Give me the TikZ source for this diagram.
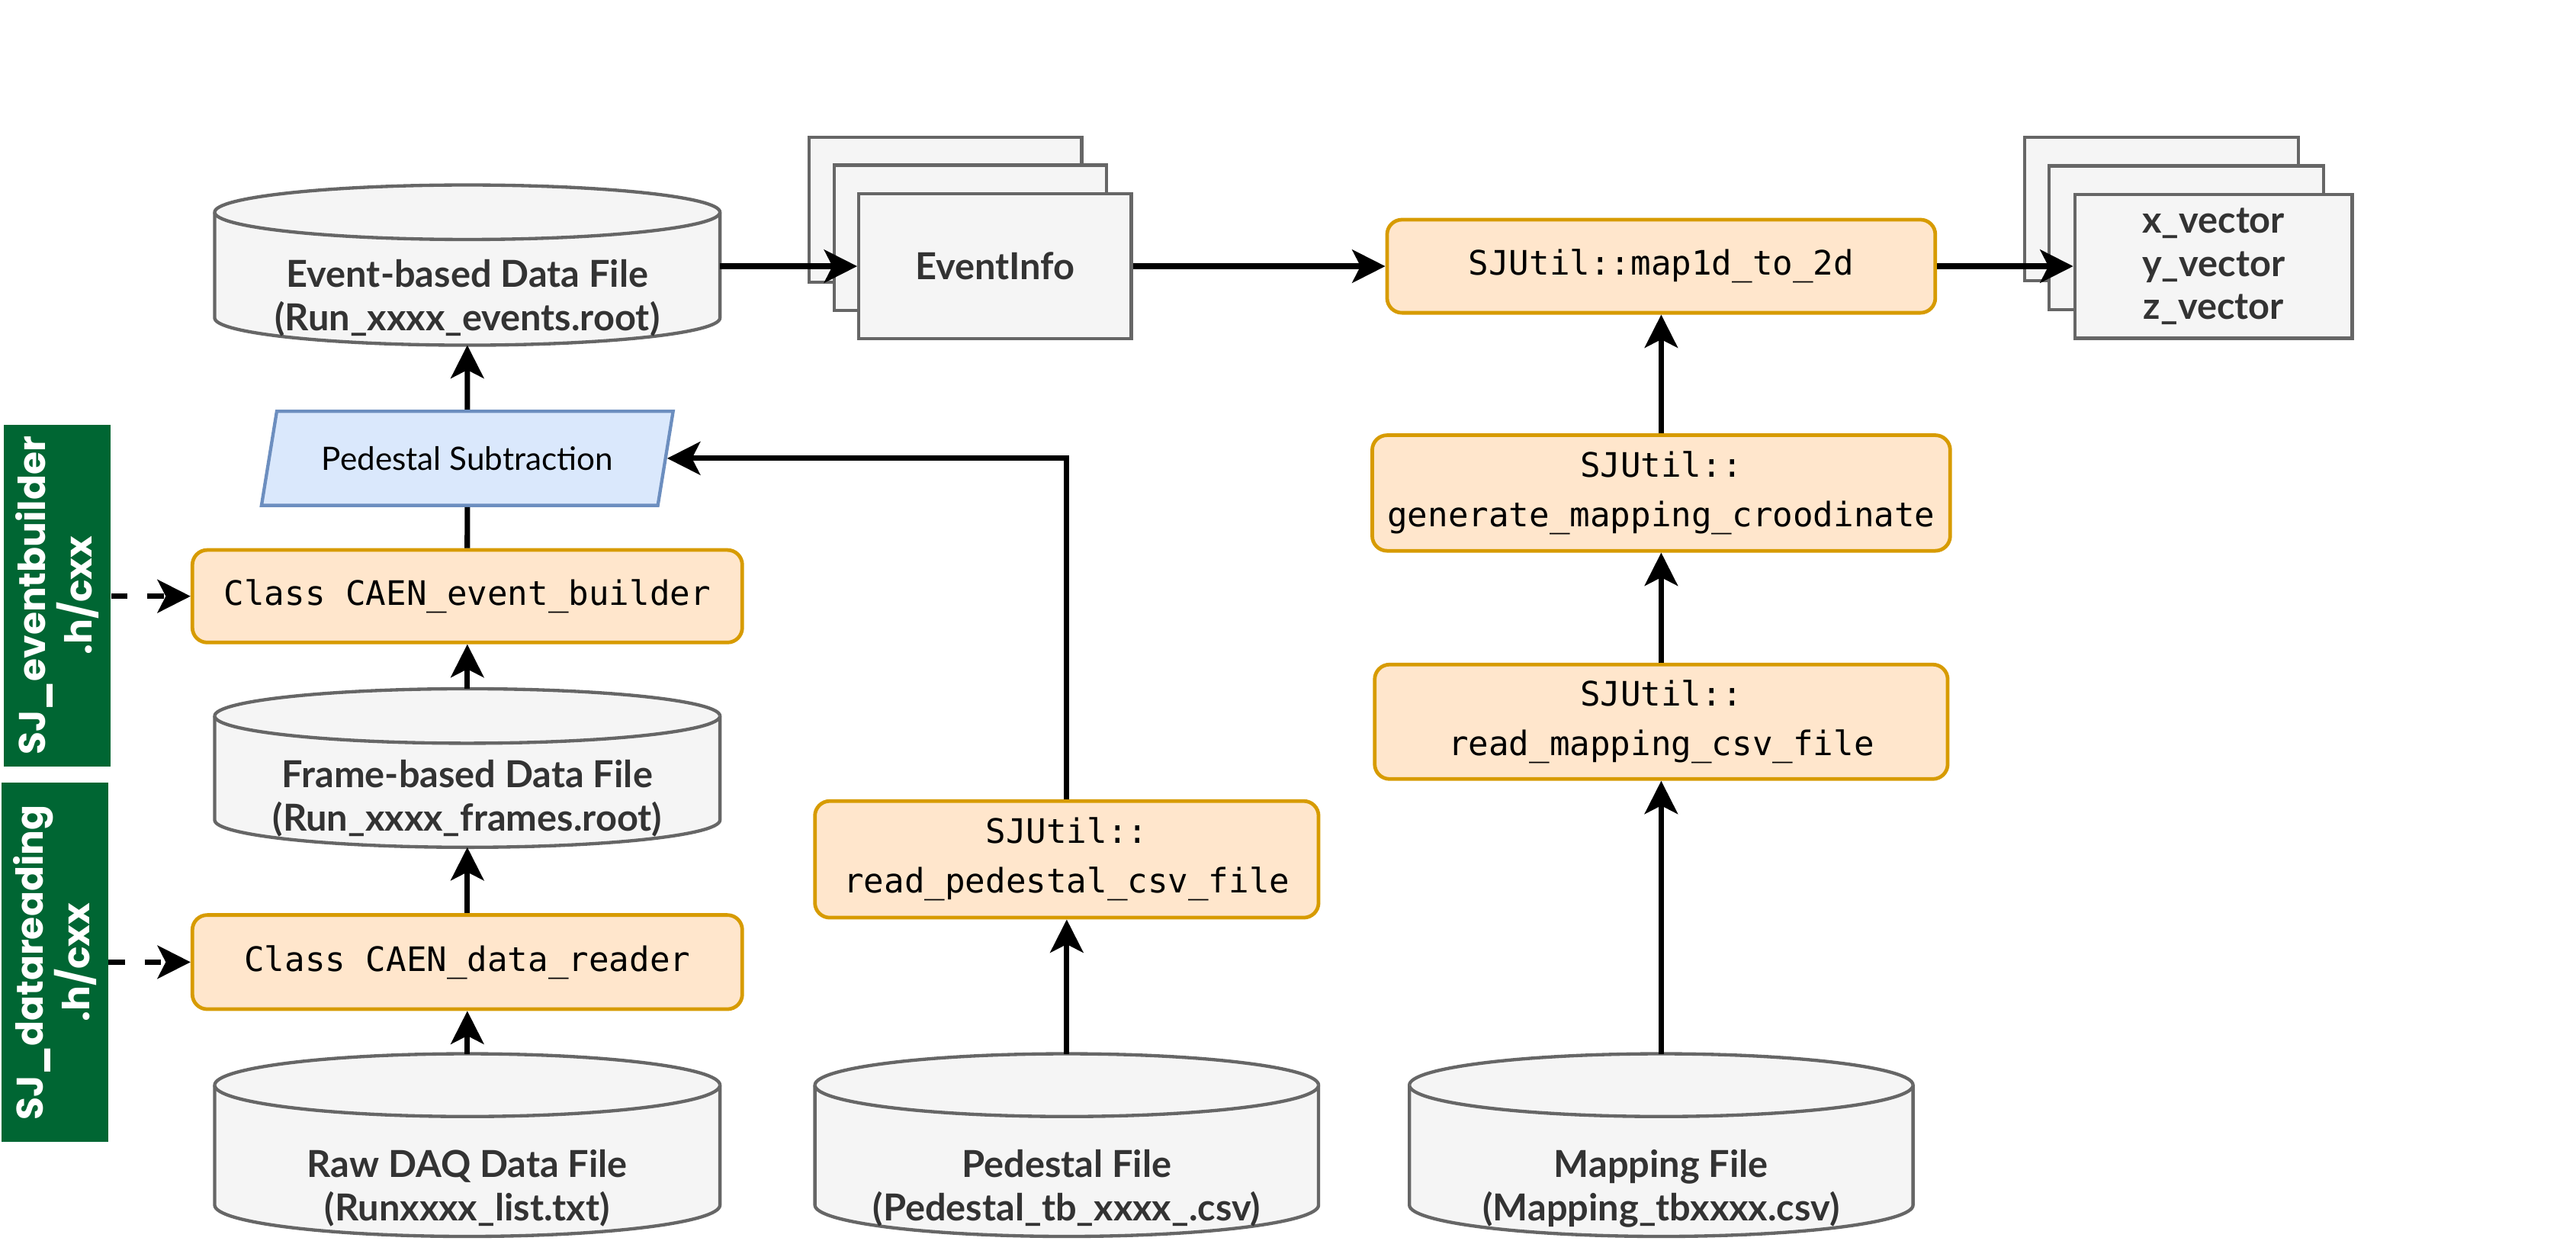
\documentclass[tikz,border=0pt]{standalone}
\usepackage{fontspec}
\setmainfont{Lato}
\newfontfamily\monof{DejaVu Sans Mono}
\newfontfamily\geof{Poppins}
\usetikzlibrary{arrows.meta,shapes.geometric}
\definecolor{ofill}{HTML}{FFE6CC}
\definecolor{oline}{HTML}{D79B00}
\definecolor{gfill}{HTML}{F5F5F5}
\definecolor{gline}{HTML}{666666}
\definecolor{gtext}{HTML}{333333}
\definecolor{bfill}{HTML}{DAE8FC}
\definecolor{bline}{HTML}{6C8EBF}
\definecolor{sjgreen}{HTML}{006633}
\newcommand{\drum}[6]{%
 \pgfmathsetmacro\dl{#2-#4/2}%
 \pgfmathsetmacro\dr{#2+#4/2}%
 \pgfmathsetmacro\dt{#3+#6}%
 \pgfmathsetmacro\db{#3+#5-#6}%
 \pgfmathsetmacro\drx{#4/2}%
 \filldraw[drumline] (\dl,\dt) -- (\dl,\db) arc[start angle=180,end angle=0,x radius=\drx,y radius=#6] -- (\dr,\dt) arc[start angle=0,end angle=-180,x radius=\drx,y radius=#6] -- cycle;
 \draw[drumline] (\dl,\dt) arc[start angle=180,end angle=0,x radius=\drx,y radius=#6];
 \node[inner sep=0pt, outer sep=0pt, minimum width=#4pt, minimum height=#5pt] (#1) at (#2,#3+#5/2) {};
}
\tikzset{
 drumline/.style={draw=gline, fill=gfill, line width=2pt},
 drumtext/.style={font={\bfseries\fontsize{22.5pt}{26.5pt}\selectfont}, text=gtext, align=center, inner sep=0pt},
 func/.style={draw=oline, fill=ofill, line width=2.2pt, rounded corners=9pt, inner sep=0pt, align=center, font={\monof\fontsize{20.4pt}{30pt}\selectfont}},
 filebox/.style={draw=gline, fill=gfill, line width=2pt, inner sep=0pt, align=center, text=gtext, font={\bfseries\fontsize{22.5pt}{26pt}\selectfont}},
 sjbox/.style={fill=sjgreen, inner sep=0pt},
 sjtext/.style={text=white, align=center, font={\geof\bfseries\fontsize{22.5pt}{28pt}\selectfont}, rotate=90, inner sep=0pt},
 arr/.style={line width=3.3pt, -{Stealth[length=20pt,width=20pt,inset=5pt]}},
 plainline/.style={line width=3.3pt},
 dasharr/.style={arr, dash pattern=on 10pt off 12pt},
}
\begin{document}
\begin{tikzpicture}[x=1pt,y=-1pt]
\fill[white] (0,0) rectangle (1560,751);
\useasboundingbox (0,0) rectangle (1560,751);

% cylinders
\drum{ev}{283}{112}{306}{97}{16.5}
\node[drumtext] (evt) at (283,180.5) {Event-based Data File\\(Run\_xxxx\_events.root)};
\drum{fr}{283}{417}{306}{96}{16.5}
\node[drumtext] (frt) at (283,483.5) {Frame-based Data File\\(Run\_xxxx\_frames.root)};
\drum{raw}{283}{638}{306}{110.6}{19}
\node[drumtext] (rawt) at (283,719.5) {Raw DAQ Data File\\(Runxxxx\_list.txt)};
\drum{pf}{646}{638}{305}{110.6}{19}
\node[drumtext] (pft) at (646,719.5) {Pedestal File\\(Pedestal\_tb\_xxxx\_.csv)};
\drum{mf}{1006}{638}{305}{110.6}{19}
\node[drumtext] (mft) at (1006,719.5) {Mapping File\\(Mapping\_tbxxxx.csv)};

% pedestal subtraction
\node[trapezium, trapezium left angle=64, trapezium right angle=116, trapezium stretches=true,
      minimum width=250pt, minimum height=57pt, draw=bline, fill=bfill, line width=2pt, inner sep=0pt,
      font={\fontsize{19.5pt}{22pt}\selectfont}] (ps) at (283,277.5) {Pedestal Subtraction};

% function boxes
\node[func, minimum width=333pt, minimum height=56pt] (eb) at (283,361) {Class CAEN\_event\_builder};
\node[func, minimum width=333pt, minimum height=57pt] (dr) at (283,582.5) {Class CAEN\_data\_reader};
\node[func, minimum width=305pt, minimum height=70.6pt] (rp) at (646,520.3) {SJUtil::\\read\_pedestal\_csv\_file};
\node[func, minimum width=350pt, minimum height=70pt] (gm) at (1006,298.5) {SJUtil::\\generate\_mapping\_croodinate};
\node[func, minimum width=347pt, minimum height=69.3pt] (rm) at (1006,437) {SJUtil::\\read\_mapping\_csv\_file};
\node[func, minimum width=332pt, minimum height=56.4pt] (m2) at (1006,161.2) {SJUtil::map1d\_to\_2d};

% stacked EventInfo
\node[filebox, minimum width=165pt, minimum height=88pt] (ei3) at (572.6,127) {};
\node[filebox, minimum width=165pt, minimum height=88pt] (ei2) at (587.6,144) {};
\node[filebox, minimum width=165pt, minimum height=88pt] (ei) at (602.6,161.2) {EventInfo};

% stacked vectors
\node[filebox, minimum width=166pt, minimum height=87pt] (vc3) at (1309,126.5) {};
\node[filebox, minimum width=166pt, minimum height=87pt] (vc2) at (1324,144) {};
\node[filebox, minimum width=168pt, minimum height=87pt] (vc) at (1340.5,161.3) {x\_vector\\y\_vector\\z\_vector};

% green labels
\node[sjbox, minimum width=64.6pt, minimum height=207pt] (g1) at (34.7,360.5) {};
\node[sjtext] (g1t) at (g1.center) {SJ\_eventbuilder\\.h/cxx};
\node[sjbox, minimum width=64.4pt, minimum height=217.5pt] (g2) at (33.2,582.7) {};
\node[sjtext] (g2t) at (g2.center) {SJ\_datareading\\.h/cxx};

% connectors
\draw[arr] (raw.north) -- (dr.south);
\draw[arr] (dr.north) -- (fr.south);
\draw[arr] (fr.north) -- (eb.south);
\draw[plainline] (eb.north) -- (ps.south);
\draw[arr] (ps.north) -- (ev.south);
\draw[arr] (ev.east |- ei.west) -- (ei.west);
\draw[arr] (ei.east) -- (ei.east -| m2.west);
\draw[arr] (m2.east) -- (m2.east -| vc.west);
\draw[arr] (pf.north) -- (rp.south);
\draw[arr] (rp.north) -- (rp.north |- ps.east) -- (ps.east);
\draw[arr] (mf.north) -- (rm.south);
\draw[arr] (rm.north) -- (gm.south);
\draw[arr] (gm.north) -- (m2.south);
\draw[dasharr] (g1.east |- eb.west) -- (eb.west);
\draw[dasharr] (g2.east |- dr.west) -- (dr.west);
\end{tikzpicture}
\end{document}
